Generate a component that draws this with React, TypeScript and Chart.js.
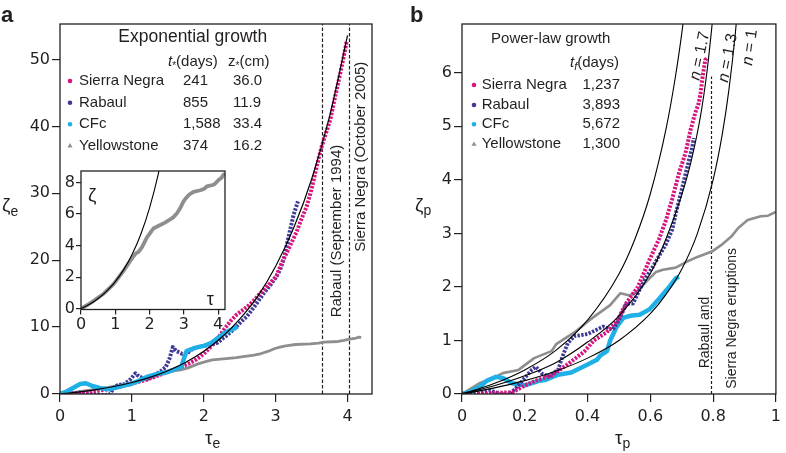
import React, { useEffect, useRef } from "react";
import { Chart, registerables } from "chart.js";
Chart.register(...registerables);

type P = [number, number];

// ---------------- tick values ----------------
const A_X_TICKS = [0, 1, 2, 3, 4];
const A_Y_TICKS = [0, 10, 20, 30, 40, 50];
const INSET_X_TICKS = [0, 1, 2, 3, 4];
const INSET_Y_TICKS = [0, 2, 4, 6, 8];
const B_X_TICKS = [0, 0.2, 0.4, 0.6, 0.8, 1];
const B_Y_TICKS = [0, 1, 2, 3, 4, 5, 6];

// ---------------- legend tables ----------------
const SITES = ["Sierra Negra", "Rabaul", "CFc", "Yellowstone"];
const T_STAR_DAYS = ["241", "855", "1,588", "374"];
const Z_STAR_CM = ["36.0", "11.9", "33.4", "16.2"];
const TF_DAYS = ["1,237", "3,893", "5,672", "1,300"];
const N_LABELS = ["1.7", "1.3", "1"];

// ---------------- events ----------------
const EVENT_TAU_A = [3.64, 4.025];
const EVENT_LABELS_A = ["Rabaul (September 1994)", "Sierra Negra (October 2005)"];
const EVENT_TAU_B = 0.793;
const EVENT_TOP_B = 5.93;

// ---------------- panel a: exponential growth (tau_e, zeta_e) ----------------
const FIT_A: P[] = [
  [0, 0], [0.25, 0.28], [0.5, 0.65], [0.75, 1.12], [1, 1.72], [1.25, 2.49], [1.5, 3.48],
  [1.75, 4.75], [2, 6.39], [2.25, 8.49], [2.5, 11.2], [2.75, 14.6], [3, 19.1], [3.25, 24.8],
  [3.5, 32.1], [3.75, 41.5], [4, 53.6],
];
const SN_A: P[] = [
  [0.15, 0.0], [0.3, 0.1], [0.45, 0.3], [0.6, 0.6], [0.75, 0.9], [0.9, 1.3], [1.05, 1.7],
  [1.2, 2.1], [1.35, 2.7], [1.5, 3.3], [1.65, 3.9], [1.8, 4.6], [1.9, 5.2], [2.0, 6.0],
  [2.1, 7.1], [2.2, 8.4], [2.3, 9.9], [2.38, 11.0], [2.45, 11.8], [2.55, 12.6], [2.62, 13.2],
  [2.7, 14.0], [2.78, 15.0], [2.9, 16.3], [3.01, 17.6], [3.08, 19.5], [3.15, 21.0],
  [3.22, 22.6], [3.29, 24.2], [3.36, 26.2], [3.43, 28.0], [3.5, 30.6], [3.55, 33.0],
  [3.6, 35.3], [3.64, 37.0], [3.7, 39.0], [3.76, 41.0], [3.83, 44.6], [3.9, 48.0],
  [3.95, 50.6], [3.99, 52.8],
];
const RB_A: P[] = [
  [0.05, 0.0], [0.2, 0.1], [0.3, 0.25], [0.38, 0.05], [0.5, -0.1], [0.62, -0.2], [0.7, 0.0],
  [0.74, 0.9], [0.8, 1.3], [0.9, 1.5], [0.98, 2.2], [1.05, 3.1], [1.1, 2.6], [1.2, 2.2],
  [1.3, 2.7], [1.4, 3.4], [1.47, 4.0], [1.52, 5.2], [1.57, 7.0], [1.62, 6.4], [1.7, 6.0],
  [1.77, 6.1], [1.85, 6.8], [1.95, 7.1], [2.05, 7.3], [2.18, 7.6], [2.3, 8.6], [2.41, 9.6],
  [2.5, 10.6], [2.6, 11.6], [2.7, 13.0], [2.83, 15.0], [2.92, 16.2], [3.0, 17.4],
  [3.06, 18.5], [3.12, 20.5], [3.16, 22.5], [3.2, 24.5], [3.25, 26.8], [3.31, 28.8],
];
const CF_A: P[] = [
  [0, 0], [0.08, 0.3], [0.18, 0.9], [0.28, 1.5], [0.36, 1.6], [0.45, 1.2], [0.55, 0.9],
  [0.67, 0.7], [0.8, 1.0], [0.9, 1.3], [0.99, 1.5], [1.1, 2.0], [1.22, 2.6], [1.35, 3.0],
  [1.5, 3.3], [1.6, 3.7], [1.69, 4.1], [1.72, 5.2], [1.76, 6.4], [1.85, 6.8], [1.92, 7.0],
  [2.0, 7.2], [2.1, 7.6], [2.2, 8.4], [2.29, 9.1], [2.38, 9.6], [2.47, 10.1],
];
const YS_A: P[] = [
  [0, 0], [0.2, 0.25], [0.37, 0.5], [0.66, 0.95], [0.95, 1.55], [1.24, 2.4], [1.49, 3.2],
  [1.6, 3.5], [1.68, 3.6], [1.78, 3.9], [1.92, 4.5], [2.05, 4.9], [2.12, 5.1], [2.31, 5.3],
  [2.45, 5.45], [2.6, 5.65], [2.7, 5.8], [2.8, 6.05], [2.9, 6.4], [2.99, 6.8], [3.06, 7.0],
  [3.14, 7.2], [3.28, 7.4], [3.48, 7.5], [3.6, 7.6], [3.67, 7.75], [3.87, 7.85], [3.95, 8.0],
  [4.01, 8.15], [4.1, 8.3], [4.16, 8.5], [4.19, 8.45],
];

// ---------------- panel b: power-law growth (tau_p, zeta_p) ----------------
const N17_B: P[] = [
  [0, 0], [0.1, 0.19], [0.2, 0.45], [0.3, 0.82], [0.4, 1.38], [0.5, 2.24], [0.55, 2.88],
  [0.6, 3.74], [0.65, 4.95], [0.68, 5.93], [0.7, 6.73], [0.71, 7.2],
];
const N13_B: P[] = [
  [0, 0], [0.1, 0.15], [0.2, 0.34], [0.3, 0.59], [0.4, 0.97], [0.5, 1.46], [0.6, 2.25],
  [0.65, 2.9], [0.7, 3.72], [0.73, 4.35], [0.76, 5.2], [0.78, 6.0], [0.795, 6.8], [0.8, 7.1],
];
const N10_B: P[] = [
  [0, 0], [0.1, 0.11], [0.2, 0.25], [0.3, 0.43], [0.4, 0.67], [0.5, 1.0], [0.6, 1.5],
  [0.65, 1.86], [0.7, 2.33], [0.75, 3.0], [0.8, 4.0], [0.83, 4.88], [0.85, 5.67],
  [0.87, 6.69], [0.88, 7.33],
];
const SN_B: P[] = [
  [0.05, 0.0], [0.1, 0.02], [0.16, 0.03], [0.2, 0.16], [0.24, 0.26], [0.285, 0.34],
  [0.34, 0.57], [0.389, 0.79], [0.42, 1.0], [0.46, 1.15], [0.493, 1.36], [0.524, 1.7],
  [0.56, 2.0], [0.597, 2.5], [0.628, 2.9], [0.65, 3.25], [0.67, 3.65], [0.691, 4.12],
  [0.712, 4.5], [0.728, 4.93], [0.743, 5.25], [0.754, 5.43], [0.76, 5.62], [0.768, 5.99],
  [0.775, 6.24], [0.78, 6.27],
];
const RB_B: P[] = [
  [0, 0], [0.05, 0.03], [0.09, 0.07], [0.12, 0.0], [0.15, -0.01], [0.17, 0.1], [0.2, 0.3],
  [0.222, 0.45], [0.235, 0.51], [0.255, 0.38], [0.274, 0.33], [0.306, 0.45], [0.32, 0.7],
  [0.337, 0.95], [0.358, 1.08], [0.4, 1.12], [0.45, 1.26], [0.48, 1.2], [0.5, 1.38],
  [0.524, 1.69], [0.545, 1.69], [0.566, 1.95], [0.587, 2.19], [0.608, 2.38], [0.63, 2.6],
  [0.65, 2.8], [0.67, 3.07], [0.681, 3.37], [0.702, 3.87], [0.723, 4.37], [0.733, 4.6],
  [0.738, 4.78],
];
const CF_B: P[] = [
  [0, 0], [0.03, 0.05], [0.055, 0.13], [0.08, 0.25], [0.108, 0.32], [0.13, 0.3], [0.16, 0.2],
  [0.2, 0.16], [0.243, 0.24], [0.264, 0.26], [0.306, 0.36], [0.348, 0.4], [0.389, 0.52],
  [0.43, 0.64], [0.441, 0.72], [0.462, 0.8], [0.472, 1.0], [0.493, 1.26], [0.514, 1.42],
  [0.535, 1.46], [0.566, 1.48], [0.597, 1.58], [0.628, 1.78], [0.66, 2.0], [0.681, 2.16],
  [0.691, 2.19],
];
const YS_B: P[] = [
  [0, 0], [0.055, 0.2], [0.1, 0.3], [0.13, 0.39], [0.18, 0.45], [0.23, 0.67], [0.285, 0.8],
  [0.3, 0.93], [0.358, 1.15], [0.4, 1.35], [0.42, 1.44], [0.472, 1.66], [0.504, 1.88],
  [0.535, 1.84], [0.556, 1.9], [0.587, 2.1], [0.618, 2.28], [0.64, 2.32], [0.681, 2.36],
  [0.712, 2.46], [0.75, 2.56], [0.796, 2.66], [0.83, 2.8], [0.858, 2.94], [0.88, 3.1],
  [0.91, 3.25], [0.952, 3.32], [0.975, 3.33], [1.0, 3.4],
];

// ---------------- styling ----------------
const INK = "#231f20";
const SANS = "'Liberation Sans', Arial, Helvetica, sans-serif";
const TICKF = "'DejaVu Sans', 'Liberation Sans', sans-serif";
const C_SN = "#d6157f";
const C_RB = "#3c3a96";
const C_CF = "#1eb0e6";
const C_YS = "#8e8e8e";
const SITE_COLORS = [C_SN, C_RB, C_CF, C_YS];

const xy = (a: P[]) => a.map(([x, y]) => ({ x, y }));

function axis(pos: "x" | "y", min: number, max: number, ticks: number[], size: number, tickLen: number, pad: number) {
  return {
    type: "linear",
    position: pos === "x" ? "bottom" : "left",
    min,
    max,
    afterBuildTicks: (s: any) => {
      s.ticks = ticks.map((v) => ({ value: v }));
    },
    afterFit: (s: any) => {
      if (pos === "x") s.height = size;
      else s.width = size;
    },
    grid: { drawOnChartArea: false, drawTicks: true, tickLength: tickLen, color: INK, lineWidth: 1.2 },
    border: { display: false },
    ticks: {
      autoSkip: false,
      maxRotation: 0,
      padding: pad,
      color: INK,
      font: { family: TICKF, size: 16 },
      callback: (v: any) => String(v),
    },
  };
}

function series(data: P[], color: string, width: number, dash: number[] = [], smooth = false) {
  return {
    data: xy(data),
    borderColor: color,
    backgroundColor: color,
    borderWidth: width,
    borderDash: dash,
    pointRadius: 0,
    pointHoverRadius: 0,
    fill: false,
    tension: 0,
    cubicInterpolationMode: smooth ? "monotone" : "default",
    borderJoinStyle: "round",
  };
}

function baseOptions(padding: any, scales: any) {
  return {
    responsive: false,
    maintainAspectRatio: false,
    animation: false,
    devicePixelRatio: 1,
    events: [],
    layout: { padding },
    plugins: { legend: { display: false }, tooltip: { enabled: false }, title: { display: false } },
    scales,
  };
}

// ---------------- drawing helpers ----------------
function frame(chart: any) {
  const { ctx, chartArea: a } = chart;
  ctx.save();
  ctx.strokeStyle = INK;
  ctx.lineWidth = 1.3;
  ctx.setLineDash([]);
  ctx.strokeRect(a.left, a.top, a.right - a.left, a.bottom - a.top);
  ctx.restore();
}

function text(ctx: CanvasRenderingContext2D, s: string, x: number, y: number, font: string, align: CanvasTextAlign = "left", baseline: CanvasTextBaseline = "middle") {
  ctx.save();
  ctx.fillStyle = INK;
  ctx.font = font;
  ctx.textAlign = align;
  ctx.textBaseline = baseline;
  ctx.fillText(s, x, y);
  ctx.restore();
}

function seq(ctx: CanvasRenderingContext2D, segs: [string, string, number][], x: number, base: number, align: "left" | "center" | "right" = "left") {
  ctx.save();
  ctx.fillStyle = INK;
  ctx.textBaseline = "alphabetic";
  ctx.textAlign = "left";
  const widths = segs.map(([t, f]) => {
    ctx.font = f;
    return ctx.measureText(t).width;
  });
  const total = widths.reduce((a, b) => a + b, 0);
  let cx = align === "left" ? x : align === "center" ? x - total / 2 : x - total;
  segs.forEach(([t, f, dy], i) => {
    ctx.font = f;
    ctx.fillText(t, cx, base + dy);
    cx += widths[i];
  });
  ctx.restore();
}

function rotSeq(ctx: CanvasRenderingContext2D, segs: [string, string][], cx: number, cy: number, angle: number) {
  ctx.save();
  ctx.translate(cx, cy);
  ctx.rotate(angle);
  ctx.fillStyle = INK;
  ctx.textBaseline = "middle";
  ctx.textAlign = "left";
  const widths = segs.map(([t, f]) => {
    ctx.font = f;
    return ctx.measureText(t).width;
  });
  const total = widths.reduce((a, b) => a + b, 0);
  let x = -total / 2;
  segs.forEach(([t, f], i) => {
    ctx.font = f;
    ctx.fillText(t, x, 0);
    x += widths[i];
  });
  ctx.restore();
}

function vline(chart: any, xv: number, y0: number, y1: number, dash: number[]) {
  const { ctx, scales } = chart;
  const x = Math.round(scales.x.getPixelForValue(xv)) + 0.5;
  const ya = scales.y.getPixelForValue(y0);
  const yb = scales.y.getPixelForValue(y1);
  ctx.save();
  ctx.strokeStyle = INK;
  ctx.lineWidth = 1.2;
  ctx.setLineDash(dash);
  ctx.beginPath();
  ctx.moveTo(x, ya);
  ctx.lineTo(x, yb);
  ctx.stroke();
  ctx.restore();
}

function marker(ctx: CanvasRenderingContext2D, i: number, x: number, y: number) {
  ctx.save();
  ctx.fillStyle = SITE_COLORS[i];
  ctx.beginPath();
  if (i === 3) {
    ctx.moveTo(x, y - 2.6);
    ctx.lineTo(x + 2.5, y + 1.8);
    ctx.lineTo(x - 2.5, y + 1.8);
    ctx.closePath();
  } else {
    ctx.arc(x, y, 2.3, 0, Math.PI * 2);
  }
  ctx.fill();
  ctx.restore();
}

const F = (size: number, style = "") => `${style} ${size}px ${SANS}`.trim();

// ---------------- chart configs ----------------
function configA(): any {
  const decor = {
    id: "decorA",
    beforeDatasetsDraw(chart: any) {
      const top = chart.scales.y.max;
      EVENT_TAU_A.forEach((t) => vline(chart, t, 0, top, [3.5, 2]));
    },
    afterDraw(chart: any) {
      const ctx = chart.ctx as CanvasRenderingContext2D;
      frame(chart);
      text(ctx, "a", 1, 22, F(22, "bold"), "left", "alphabetic");
      seq(ctx, [["ζ", F(19), 0], ["e", F(14), 5]], 2, 211);
      seq(ctx, [["τ", F(19), 0], ["e", F(14), 4]], 205, 444);
      text(ctx, "Exponential growth", 192.7, 37, F(17.5), "center");
      seq(ctx, [["t", F(15, "italic"), 0], ["*", F(10), 3], ["(days)", F(15), 0]], 168, 65.5);
      seq(ctx, [["z", F(15), 0], ["*", F(10), 3], ["(cm)", F(15), 0]], 228, 65.5);
      const rows = [81, 102.7, 124.3, 145.7];
      SITES.forEach((s, i) => {
        marker(ctx, i, 70, rows[i]);
        text(ctx, s, 79, rows[i], F(15));
        text(ctx, T_STAR_DAYS[i], 183, rows[i], F(15));
        text(ctx, Z_STAR_CM[i], 233, rows[i], F(15));
      });
      rotSeq(ctx, [[EVENT_LABELS_A[0], F(15)]], 336.7, 231, -Math.PI / 2);
      rotSeq(ctx, [[EVENT_LABELS_A[1], F(15)]], 361, 156.7, -Math.PI / 2);
    },
  };
  return {
    type: "line",
    data: {
      datasets: [
        series(FIT_A, "#000", 1.2, [], true),
        series(CF_A, C_CF, 4.5),
        series(SN_A, C_SN, 4, [2.4, 1.4]),
        series(RB_A, C_RB, 4, [2.4, 1.4]),
        series(YS_A, C_YS, 2.8),
      ],
    },
    options: baseOptions(
      { left: 0, top: 24, right: 18, bottom: 0 },
      {
        x: axis("x", 0, 4.34, A_X_TICKS, 59, 8, 5),
        y: axis("y", 0, 55.3, A_Y_TICKS, 60, 8, 2),
      }
    ),
    plugins: [decor],
  };
}

function configInset(): any {
  const decor = {
    id: "decorInset",
    beforeDraw(chart: any) {
      const { ctx, chartArea: a } = chart;
      ctx.save();
      ctx.fillStyle = "#fff";
      ctx.fillRect(a.left, a.top, a.right - a.left, a.bottom - a.top);
      ctx.restore();
    },
    afterDraw(chart: any) {
      const ctx = chart.ctx as CanvasRenderingContext2D;
      frame(chart);
      seq(ctx, [["ζ", F(19), 0]], 58, 41);
      seq(ctx, [["τ", F(18), 0]], 176.7, 145);
    },
  };
  return {
    type: "line",
    data: {
      datasets: [series(FIT_A, "#000", 1.1, [], true), series(YS_A, C_YS, 3.8)],
    },
    options: baseOptions(
      { left: 0, top: 11, right: 5, bottom: 0 },
      {
        x: axis("x", 0, 4.2, INSET_X_TICKS, 30.5, 5, 1),
        y: axis("y", -0.05, 8.72, INSET_Y_TICKS, 51, 5, 1),
      }
    ),
    plugins: [decor],
  };
}

function configB(): any {
  const decor = {
    id: "decorB",
    beforeDatasetsDraw(chart: any) {
      vline(chart, EVENT_TAU_B, 0, EVENT_TOP_B, [3, 2]);
    },
    afterDraw(chart: any) {
      const ctx = chart.ctx as CanvasRenderingContext2D;
      frame(chart);
      text(ctx, "b", 20, 22, F(22, "bold"), "left", "alphabetic");
      seq(ctx, [["ζ", F(19), 0], ["p", F(14), 4]], 25, 211);
      seq(ctx, [["τ", F(19), 0], ["p", F(14), 4]], 225, 444);
      text(ctx, "Power-law growth", 160.7, 39.3, F(15), "center");
      seq(ctx, [["t", F(15, "italic"), 0], ["f", F(11, "italic"), 3], ["(days)", F(15), 0]], 180, 67);
      const rows = [85, 105, 124.3, 144];
      SITES.forEach((s, i) => {
        marker(ctx, i, 84, rows[i]);
        text(ctx, s, 91.7, rows[i], F(15));
        text(ctx, TF_DAYS[i], 230, rows[i], F(15), "right");
      });
      const nPos: [number, number, number][] = [
        [310, 56, -78],
        [338, 58, -79],
        [360, 47.5, -82],
      ];
      N_LABELS.forEach((n, i) => {
        const [x, y, a] = nPos[i];
        rotSeq(ctx, [["n", F(16, "italic")], [" = " + n, F(16)]], x, y, (a * Math.PI) / 180);
      });
      rotSeq(ctx, [["Rabaul and", F(14)]], 315, 332.5, -Math.PI / 2);
      rotSeq(ctx, [["Sierra Negra eruptions", F(14)]], 341.7, 318.3, -Math.PI / 2);
    },
  };
  return {
    type: "line",
    data: {
      datasets: [
        series(N17_B, "#000", 1.1, [], true),
        series(N13_B, "#000", 1.1, [], true),
        series(N10_B, "#000", 1.1, [], true),
        series(SN_B, C_SN, 4, [2.4, 1.4]),
        series(RB_B, C_RB, 3.8, [2.4, 1.4]),
        series(CF_B, C_CF, 4.5),
        series(YS_B, C_YS, 2.6),
      ],
    },
    options: baseOptions(
      { left: 0, top: 24, right: 4, bottom: 0 },
      {
        x: axis("x", 0, 1, B_X_TICKS, 59, 8, 5),
        y: axis("y", 0, 6.91, B_Y_TICKS, 72, 8, 2),
      }
    ),
    plugins: [decor],
  };
}

export default function App() {
  const aRef = useRef<HTMLCanvasElement>(null);
  const bRef = useRef<HTMLCanvasElement>(null);
  const iRef = useRef<HTMLCanvasElement>(null);

  useEffect(() => {
    const charts = [
      new Chart(aRef.current as HTMLCanvasElement, configA()),
      new Chart(bRef.current as HTMLCanvasElement, configB()),
      new Chart(iRef.current as HTMLCanvasElement, configInset()),
    ];
    return () => charts.forEach((c) => c.destroy());
  }, []);

  return (
    <div style={{ position: "absolute", left: 0, top: 0, width: 786, height: 453, background: "#fff", overflow: "hidden" }}>
      <canvas ref={aRef} width={390} height={453} style={{ position: "absolute", left: 0, top: 0, width: 390, height: 453 }} />
      <canvas ref={bRef} width={396} height={453} style={{ position: "absolute", left: 390, top: 0, width: 396, height: 453 }} />
      <canvas ref={iRef} width={200} height={180} style={{ position: "absolute", left: 30, top: 160, width: 200, height: 180 }} />
    </div>
  );
}
